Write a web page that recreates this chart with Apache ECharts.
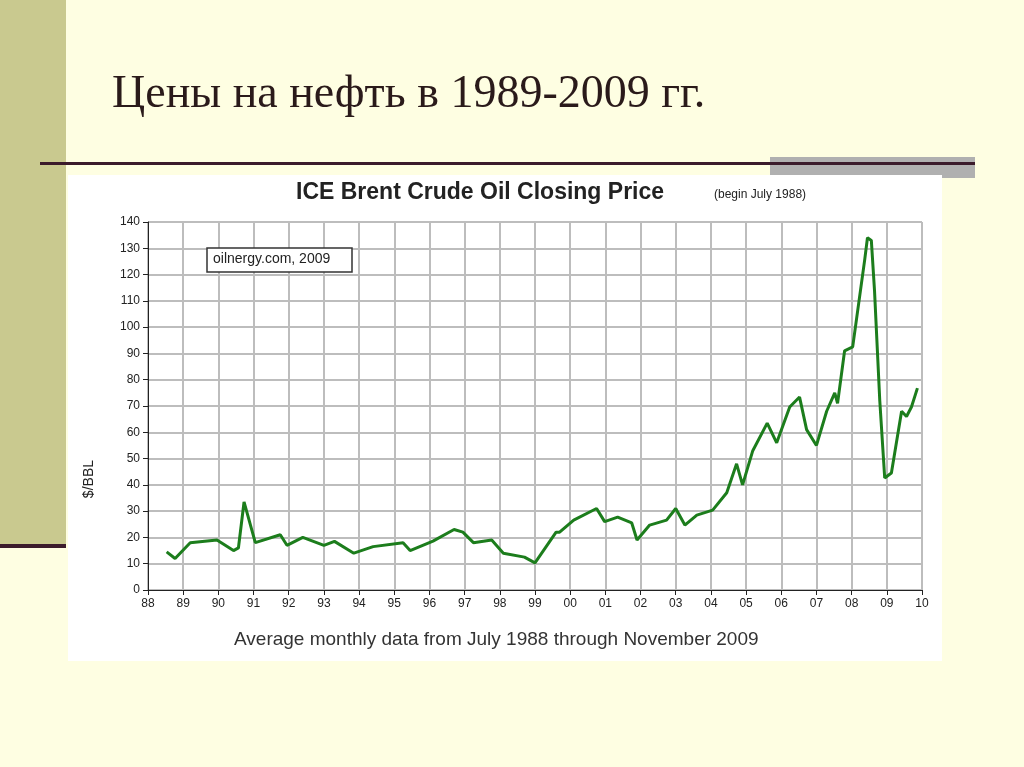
<!DOCTYPE html>
<html><head><meta charset="utf-8">
<script src="https://cdn.jsdelivr.net/npm/echarts@6/dist/echarts.min.js"></script>
<style>html,body{margin:0;padding:0;background:#fefee2}#c{width:1024px;height:767px}</style>
</head><body><div id="c"></div>
<script>
const years = [88.53,88.77,89.2,89.96,90.43,90.57,90.73,91.05,91.76,91.95,92.4,93.0,93.3,93.85,94.4,95.25,95.45,96.1,96.7,96.95,97.25,97.77,98.1,98.7,99.0,99.6,99.7,100.1,100.75,100.98,101.35,101.75,101.9,102.26,102.74,103.0,103.26,103.6,104.05,104.45,104.73,104.9,105.19,105.6,105.87,106.24,106.52,106.72,107.0,107.29,107.52,107.6,107.8,108.03,108.37,108.45,108.56,108.65,108.8,108.94,109.13,109.42,109.56,109.7,109.87];
const prices = [14.5,12,18,19,15,16,33.5,18,21,17,20,17,18.5,14,16.5,18,15,18.6,23,22,18,19,14,12.5,10.3,22,22,26.6,31,26,27.7,25.5,19,24.7,26.6,31,24.7,28.5,30.4,37,48,40,53,63.5,56,69.6,73.4,61,55,68,75,71,91,92.5,125.5,134,133,114,72,42.6,44.5,68,66,69.6,76.8];
const data = years.map((y,i)=>[y,prices[i]]);
const yTicks = [0,10,20,30,40,50,60,70,80,90,100,110,120,130,140];
const ch = echarts.init(document.getElementById('c'));
ch.setOption({
  animation:false,
  graphic:[
    {type:'rect',shape:{x:0,y:0,width:66,height:546},style:{fill:'#c9c98f'}},
    {type:'rect',shape:{x:0,y:544,width:66,height:4},style:{fill:'#3b1b2b'}},
    {type:'rect',shape:{x:770,y:157,width:205,height:21},style:{fill:'#b0b0b0'}},
    {type:'rect',shape:{x:40,y:162,width:935,height:3},style:{fill:'#3b1b2b'}},
    {type:'rect',shape:{x:68,y:175,width:874,height:486},style:{fill:'#ffffff'}},
    {type:'text',left:112,top:72,style:{text:'Цены на нефть в 1989-2009 гг.',font:'46px "Liberation Serif"',fill:'#2a1a1a'}},
    {type:'text',left:296,top:181,style:{text:'ICE Brent Crude Oil Closing Price',font:'bold 23px "Liberation Sans Narrow","Liberation Sans"',fill:'#222'}},
    {type:'text',left:714,top:189,style:{text:'(begin July 1988)',font:'12px "Liberation Sans Narrow","Liberation Sans"',fill:'#222'}},
    {type:'rect',z:10,shape:{x:207,y:248,width:145,height:24},style:{fill:'#fff',stroke:'#333',lineWidth:1.5}},
    {type:'text',z:11,left:213,top:252,style:{text:'oilnergy.com, 2009',font:'14px "Liberation Sans"',fill:'#222'}},
    {type:'text',left:234,top:630,style:{text:'Average monthly data from July 1988 through November 2009',font:'19px "Liberation Sans"',fill:'#333'}},
    {type:'text',left:82,top:460,rotation:Math.PI/2,style:{text:'$/BBL',font:'14px "Liberation Sans"',fill:'#222'}}
  ],
  grid:{left:148,right:102,top:222,bottom:177,backgroundColor:'#e0e0e0',show:true,borderColor:'#222',borderWidth:1.5},
  xAxis:{type:'value',min:88,max:110,interval:1,
    axisLine:{lineStyle:{color:'#222'}},axisTick:{lineStyle:{color:'#222'}},
    axisLabel:{color:'#222',fontSize:12,formatter:v=>String(v%100).padStart(2,'0')},
    splitLine:{lineStyle:{color:'#bdbdbd',width:2}}},
  yAxis:{type:'value',min:yTicks[0],max:yTicks[yTicks.length-1],interval:10,
    axisLine:{show:true,lineStyle:{color:'#222'}},axisTick:{show:true,lineStyle:{color:'#222'}},
    axisLabel:{color:'#222',fontSize:12},
    splitLine:{lineStyle:{color:'#bdbdbd',width:2}}},
  series:[{type:'line',data:data,showSymbol:false,lineStyle:{color:'#1c7d1c',width:3}}]
});
</script></body></html>
